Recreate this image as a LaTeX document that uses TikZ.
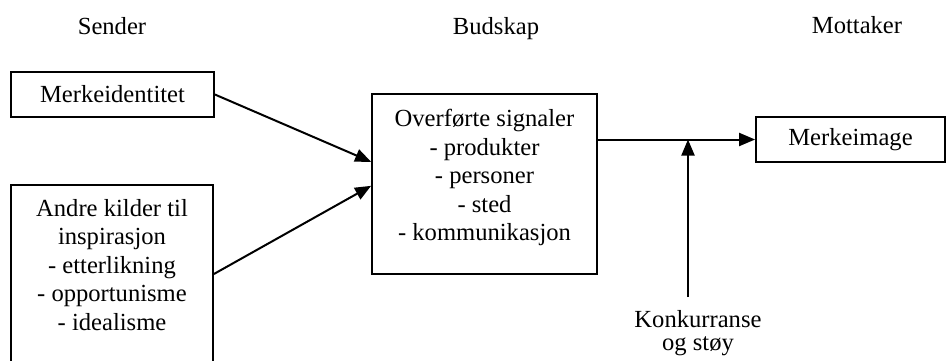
\documentclass[tikz,border=0pt]{standalone}
\usepackage{fontspec}
\setmainfont{Liberation Serif}
\usetikzlibrary{arrows.meta,calc}
\begin{document}
\begin{tikzpicture}[x=0.5pt,y=-0.5pt,
  box/.style={draw, line width=0.9pt, inner sep=0pt, font=\fontsize{12.3}{14.2}\selectfont},
  lbl/.style={font=\fontsize{12.3}{14.2}\selectfont, inner sep=0pt},
  multi/.style={lbl, align=center, anchor=north},
  arr/.style={line width=1pt, -{Triangle[length=8pt,width=6.5pt]}}]
\useasboundingbox (0,0) rectangle (947,360);
\clip (0,0) rectangle (947,360);
% headings
\node[lbl, anchor=base] (hs) at (112,34) {Sender};
\node[lbl, anchor=base] (hb) at (496,34) {Budskap};
\node[lbl, anchor=base] (hm) at (857,33) {Mottaker};
% boxes
\node[box, minimum width=101.5pt, minimum height=22.5pt] (ident) at (112.5,94.5) {Merkeidentitet};
\node[box, minimum width=101pt, minimum height=89pt] (andre) at (112,274) {};
\node[multi] (andretxt) at ($(andre.north)+(0,15)$) {Andre kilder til\\inspirasjon\\- etterlikning\\- opportunisme\\- idealisme};
\node[box, minimum width=112.5pt, minimum height=90pt] (sig) at (484.5,184) {};
\node[multi] (sigtxt) at ($(sig.north)+(0,16)$) {Overførte signaler\\- produkter\\- personer\\- sted\\- kommunikasjon};
\node[box, minimum width=94.5pt, minimum height=22.5pt] (img) at (850.5,139.5) {Merkeimage};
% noise
\node[lbl, align=center, anchor=north, font=\fontsize{12.3}{11.4}\selectfont] (noise) at (698,310) {Konkurranse\\og støy};
\coordinate (ntop) at (688,297);
% arrows
\draw[arr] (ident.east) -- ($(sig.north west)!0.378!(sig.south west)$);
\draw[arr] (andre.east) -- ($(sig.north west)!0.51!(sig.south west)$);
\draw[arr] (sig.east |- img.west) -- (img.west);
\draw[arr] (ntop) -- (ntop |- img.west);
\end{tikzpicture}
\end{document}
